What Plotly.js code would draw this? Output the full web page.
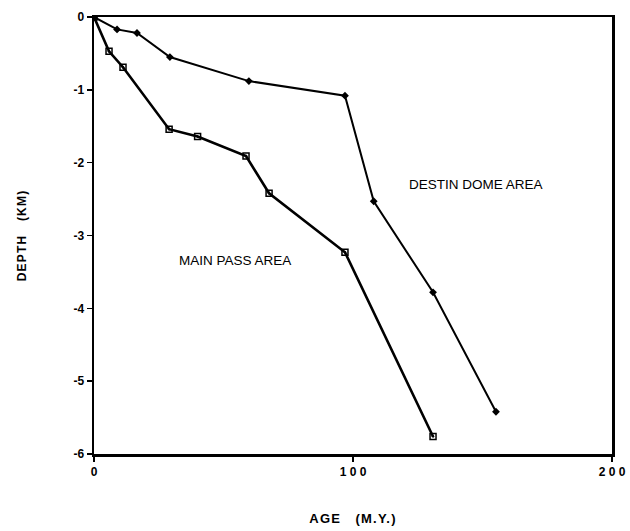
<!DOCTYPE html>
<html><head><meta charset="utf-8">
<script src="https://cdn.plot.ly/plotly-3.0.1.min.js"></script>
<style>html,body{margin:0;padding:0;background:#fff}
.xtitle,.ytitle{letter-spacing:1.2px}</style>
</head><body><div id="chart" style="width:630px;height:531px"></div>
<script>
const mainPassAge = [0, 5.8, 11.2, 29, 40, 58.7, 67.6, 96.9, 130.9];
const mainPassDepth = [0, -0.47, -0.69, -1.54, -1.64, -1.91, -2.42, -3.23, -5.76];
const destinAge = [0, 8.9, 16.6, 29.3, 59.8, 96.9, 108, 130.9, 155.2];
const destinDepth = [0, -0.17, -0.22, -0.55, -0.88, -1.08, -2.53, -3.78, -5.42];
const xTickVals = [0, 100, 200];
const xTickText = ["0", "1 0 0", "2 0 0"];
const yTickVals = [0, -1, -2, -3, -4, -5, -6];
const yTickText = ["0", "-1", "-2", "-3", "-4", "-5", "-6"];

const data = [
  {x: mainPassAge, y: mainPassDepth, mode: 'lines+markers', name: 'MAIN PASS AREA',
   line: {color: '#000', width: 2.6},
   marker: {symbol: 'square-open-dot', size: 6, color: '#000', line: {width: 1.5, color: '#000'}}},
  {x: destinAge, y: destinDepth, mode: 'lines+markers', name: 'DESTIN DOME AREA',
   line: {color: '#000', width: 2},
   marker: {symbol: 'diamond', size: 6, color: '#000'}}
];
const font = {family: 'Liberation Sans, Arial, sans-serif', color: '#000'};
const layout = {
  width: 630, height: 531,
  margin: {l: 94, r: 18, t: 17, b: 77},
  paper_bgcolor: '#fff', plot_bgcolor: '#fff',
  showlegend: false,
  font: font,
  xaxis: {range: [0, 200], tickvals: xTickVals, ticktext: xTickText,
    showgrid: false, zeroline: false, showline: true, mirror: true, linecolor: '#000', linewidth: 2.5,
    ticks: 'outside', ticklen: 5, tickwidth: 1.5, tickcolor: '#000',
    tickfont: {family: 'Liberation Sans, Arial', size: 12, color: '#000', weight: 'bold'},
    title: {text: 'AGE&nbsp;&nbsp;&nbsp;(M.Y.)', standoff: 36, font: {family: 'Liberation Sans, Arial', size: 13, color: '#000', weight: 'bold'}}},
  yaxis: {range: [-6, 0], tickvals: yTickVals, ticktext: yTickText,
    showgrid: false, zeroline: false, showline: true, mirror: true, linecolor: '#000', linewidth: 2.5,
    ticks: 'outside', ticklen: 5, tickwidth: 1.5, tickcolor: '#000',
    tickfont: {family: 'Liberation Sans, Arial', size: 12, color: '#000', weight: 'bold'},
    title: {text: 'DEPTH&nbsp;&nbsp;&nbsp;(KM)', standoff: 44, font: {family: 'Liberation Sans, Arial', size: 12, color: '#000', weight: 'bold'}}},
  annotations: [
    {x: 54.4, y: -3.34, xref: 'x', yref: 'y', text: 'MAIN PASS AREA', showarrow: false,
     font: {family: 'Liberation Sans, Arial', size: 13.5, color: '#000'}},
    {x: 147.5, y: -2.30, xref: 'x', yref: 'y', text: 'DESTIN DOME AREA', showarrow: false,
     font: {family: 'Liberation Sans, Arial', size: 13.5, color: '#000'}}
  ]
};
Plotly.newPlot('chart', data, layout, {displayModeBar: false, staticPlot: true});
</script></body></html>
